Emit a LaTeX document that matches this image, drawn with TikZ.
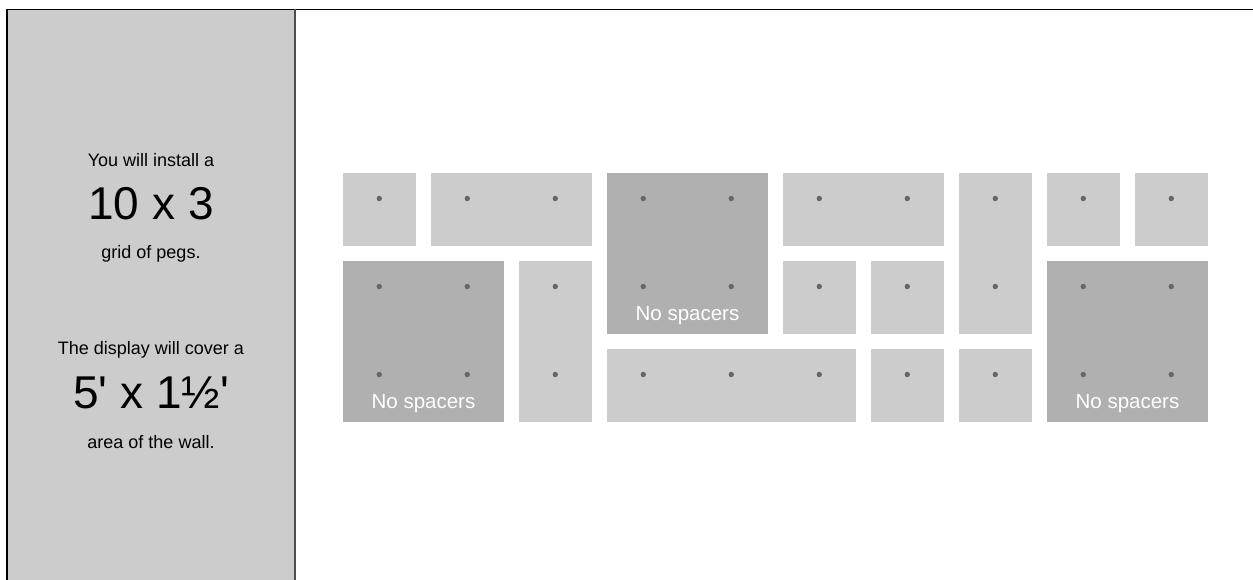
\documentclass[tikz,border=0pt]{standalone}
\usepackage{fontspec}
\setmainfont{Liberation Sans}
\usepackage{tikz}
\usetikzlibrary{positioning}

\definecolor{tilelight}{HTML}{CCCCCC}
\definecolor{tiledark}{HTML}{B0B0B0}
\definecolor{pegcol}{HTML}{666666}
\definecolor{panelgray}{HTML}{CCCCCC}
\definecolor{rulecol}{HTML}{4D4D4D}

\begin{document}
\begin{tikzpicture}[
		x=1bp, y=-1bp,
		tile/.style={rectangle, inner sep=0pt, outer sep=0pt, anchor=north west},
		peg/.style={circle, fill=pegcol, inner sep=0pt, minimum size=5.4bp},
		note/.style={text=white, anchor=base, inner sep=0pt, font=\fontsize{20.5bp}{22bp}\selectfont},
		small/.style={anchor=base, inner sep=0pt, font=\fontsize{18bp}{20bp}\selectfont},
		big/.style={anchor=base, inner sep=0pt, font=\fontsize{46bp}{50bp}\selectfont}
		]
		\useasboundingbox (0,0) rectangle (1253,580);
		% Left panel and frame
		\fill[panelgray] (7,9.5) rectangle (295,580);
		\draw[black, line width=1.3bp] (1253,9.5) -- (7,9.5) -- (7,580);
		\draw[rulecol, line width=1.6bp] (295,9.5) -- (295,580);
		% Panel text
		\foreach \n/\y/\f/\txt in {1/166.7/small/You will install a, 2/220/big/10 x 3, 3/258.5/small/grid of pegs.,
			4/355/small/The display will cover a, 5/408/big/5\textquotesingle{} x 1½\textquotesingle, 6/448/small/area of the wall.} {
			\node[\f] (P\n) at (151,\y) {\txt};
		}
		% Tiles
		\foreach \t/\c/\r/\w/\h/\s in {1/1/1/1/1/tilelight, 2/2/1/2/1/tilelight, 3/4/1/2/2/tiledark,
			4/6/1/2/1/tilelight, 5/8/1/1/2/tilelight, 6/9/1/1/1/tilelight, 7/10/1/1/1/tilelight,
			8/1/2/2/2/tiledark, 9/3/2/1/2/tilelight, 10/6/2/1/1/tilelight, 11/7/2/1/1/tilelight,
			12/9/2/2/2/tiledark, 13/4/3/3/1/tilelight, 14/7/3/1/1/tilelight, 15/8/3/1/1/tilelight} {
			\node[tile, fill=\s, minimum width={(88*\w-15)*1bp}, minimum height={(88*\h-15)*1bp}]
				(T\t) at ({343+88*(\c-1)}, {173+88*(\r-1)}) {};
		}
		% Pegs
		\foreach \c in {1,...,10} {
			\foreach \r in {1,2,3} {
				\node[peg] (G\c\r) at ({379.3+88*(\c-1)}, {198.5+88*(\r-1)}) {};
			}
		}
		% Labels on the big tiles
		\foreach \t in {3,8,12} {
			\node[note] (S\t) at ([yshift=13.5bp]T\t.south) {No spacers};
		}
	\end{tikzpicture}
\end{document}
